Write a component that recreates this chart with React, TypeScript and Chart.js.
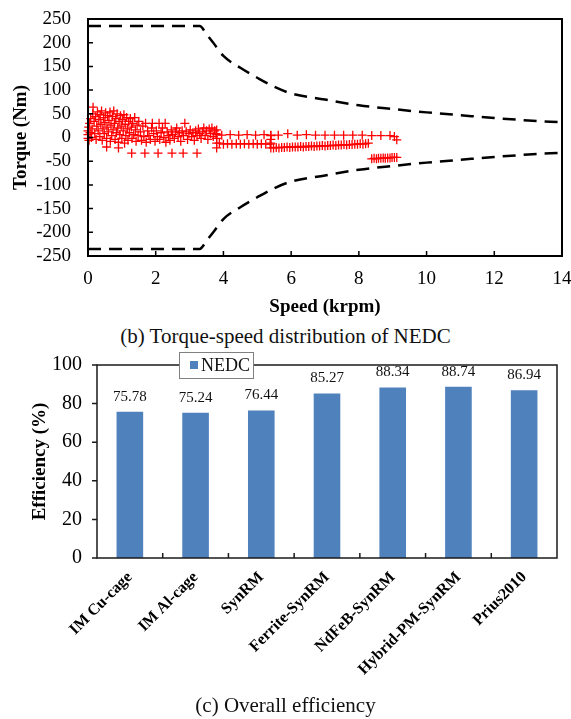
import React, { useEffect, useRef } from 'react';
import { Chart, registerables } from 'chart.js';

Chart.register(...registerables);

const SERIF = "'Liberation Serif', 'Times New Roman', serif";

// ---------- (b) Torque-speed distribution of NEDC ----------
const speedMin = 0;
const speedMax = 14;
const speedStep = 2;
const torqueMin = -250;
const torqueMax = 250;
const torqueStep = 50;

// torque envelope (dashed)
const envelopeSpeed = [0, 3.3, 3.5, 3.7, 4.0, 4.5, 5.0, 5.5, 6.0, 7.0, 8.0, 9.0, 10, 11, 12, 13, 14];
const envelopeTorqueUpper = [235, 235, 218, 200, 172, 147, 126, 107, 93, 80, 68, 60, 53, 47, 41, 36, 32];
const envelopeTorqueLower = [-235, -235, -218, -200, -172, -147, -126, -107, -93, -80, -68, -60, -53, -47, -41, -36, -32];

// NEDC operating points [speed krpm, torque Nm]
const urbanLow: [number, number][] = [
  [0.0, -2], [0.0, 6], [0.0, 14], [0.02, 22], [0.03, -6], [0.05, 30], [0.06, 10], [0.08, 40], [0.1, 0],
  [0.12, 18], [0.14, 50], [0.15, 64], [0.18, 34], [0.2, 8], [0.22, 44], [0.24, -4], [0.26, 24], [0.28, 54],
  [0.3, 14], [0.32, 38], [0.35, 2], [0.36, 48], [0.38, 28], [0.4, 56], [0.42, -6], [0.44, 18], [0.46, 42],
  [0.48, 8], [0.5, 32], [0.52, 52], [0.55, -2], [0.56, 22], [0.58, 46], [0.6, 12], [0.62, 36], [0.65, 54],
  [0.66, -8], [0.68, 26], [0.7, 4], [0.72, 44], [0.74, 16], [0.76, 56], [0.78, 30], [0.8, -4], [0.82, 40],
  [0.84, 10], [0.86, 50], [0.88, 20], [0.9, -10], [0.92, 34], [0.94, 6], [0.96, 46], [0.98, 24], [1.0, -2],
  [1.02, 38], [1.04, 14], [1.06, 48], [1.08, -12], [1.1, 28], [1.12, 4], [1.14, 42], [1.16, 18], [1.18, -6],
  [1.2, 34], [1.22, 10], [1.25, 40], [1.28, 22], [1.3, -2], [1.32, 30], [1.35, 6], [1.38, 42], [1.4, 16],
  [1.42, -8], [1.45, 26], [1.48, 4], [1.5, 34],
];
const urbanMid: [number, number][] = [
  [1.55, 12], [1.58, -6], [1.62, 24], [1.65, 2], [1.7, 30], [1.72, -10], [1.76, 14], [1.8, 4], [1.84, -4],
  [1.88, 20], [1.9, 30], [1.94, 8], [1.98, -8], [2.02, 14], [2.05, 2], [2.1, 30], [2.12, -4], [2.16, 10],
  [2.2, 20], [2.24, 0], [2.28, 30], [2.3, -10], [2.34, 12], [2.38, 4], [2.42, -6], [2.46, 16], [2.5, 6],
  [2.55, -2], [2.58, 12], [2.62, 20], [2.66, 2], [2.7, 10], [2.74, -8], [2.78, 14], [2.82, 4], [2.86, 30],
  [2.9, 12], [2.94, -4], [2.98, 8], [3.02, 16], [3.06, 2], [3.1, 10], [3.14, -6], [3.18, 14], [3.22, 4],
  [3.26, 18], [3.3, 8], [3.34, -2], [3.38, 12], [3.42, 20], [3.46, 4], [3.5, 14], [3.54, -4], [3.58, 18],
  [3.62, 8], [3.66, 20], [3.7, 2], [3.74, 14], [3.78, 8], [3.8, -22], [3.8, -12], [3.8, -2], [3.8, 6], [3.8, 16],
];
const urbanBraking: [number, number][] = [
  [0.55, -20], [0.9, -22], [1.29, -33], [1.68, -33], [2.07, -33], [2.48, -33], [2.81, -33], [3.22, -33],
];
const extraUrbanA: [number, number][] = [
  [3.95, 5], [4.2, 6], [4.45, 5], [4.7, 6], [4.95, 5], [5.2, 6], [5.4, 5],
  [3.88, -12], [4.0, -14], [4.12, -13], [4.25, -14], [4.38, -13], [4.5, -14], [4.62, -13], [4.75, -14],
  [4.88, -13], [5.0, -14], [5.12, -13], [5.25, -14], [5.38, -14],
];
const extraUrbanB: [number, number][] = [
  [5.4, -22], [5.48, -22], [5.56, -21], [5.64, -22], [5.72, -21], [5.8, -21], [5.88, -20], [5.96, -21],
  [6.04, -20], [6.12, -20], [6.2, -20], [6.28, -19], [6.36, -20], [6.44, -19], [6.52, -19], [6.6, -18],
  [6.68, -19], [6.76, -18], [6.84, -18], [6.92, -17], [7.0, -18], [7.08, -17], [7.16, -17], [7.24, -16],
  [7.32, -17], [7.4, -16], [7.48, -16], [7.56, -15], [7.64, -16], [7.72, -15], [7.8, -15], [7.88, -14],
  [7.96, -14], [8.04, -13], [8.12, -14], [8.2, -13], [8.28, -12],
  [5.4, -12], [5.4, -4], [5.4, 4],
  [5.62, 5], [5.9, 8], [6.18, 5], [6.45, 6], [6.72, 5], [7.0, 5], [7.28, 5], [7.55, 5], [7.82, 5],
  [8.1, 5], [8.38, 4], [8.65, 4], [8.92, 4], [9.05, 2], [9.12, -5],
];
const regenHighSpeed: [number, number][] = [
  [8.38, -45], [8.45, -44], [8.52, -45], [8.58, -44], [8.65, -44], [8.72, -43], [8.78, -44], [8.85, -43],
  [8.92, -43], [8.98, -42], [9.05, -42], [9.12, -42],
];

// ---------- (c) Overall efficiency ----------
const motorTypes = ['IM Cu-cage', 'IM Al-cage', 'SynRM', 'Ferrite-SynRM', 'NdFeB-SynRM', 'Hybrid-PM-SynRM', 'Prius2010'];
const nedcEfficiency = [75.78, 75.24, 76.44, 85.27, 88.34, 88.74, 86.94];
const effMin = 0;
const effMax = 100;
const effStep = 20;

const torqueFrame = {
  id: 'torqueFrame',
  afterDraw(chart: any) {
    const { ctx, chartArea: a, scales } = chart;
    ctx.save();
    ctx.strokeStyle = '#000';
    ctx.lineWidth = 1.5;
    ctx.beginPath();
    scales.x.ticks.forEach((t: any) => {
      const px = scales.x.getPixelForValue(t.value);
      ctx.moveTo(px, a.bottom);
      ctx.lineTo(px, a.bottom - 5);
    });
    scales.y.ticks.forEach((t: any) => {
      const py = scales.y.getPixelForValue(t.value);
      ctx.moveTo(a.left, py);
      ctx.lineTo(a.left + 5, py);
    });
    ctx.stroke();
    ctx.lineWidth = 2;
    ctx.strokeRect(a.left, a.top, a.right - a.left, a.bottom - a.top);
    ctx.restore();
  },
};

const effDecor = {
  id: 'effDecor',
  afterDraw(chart: any) {
    const { ctx, chartArea: a, scales } = chart;
    ctx.save();
    // frame
    ctx.strokeStyle = '#1a1a1a';
    ctx.lineWidth = 1.5;
    ctx.strokeRect(a.left, a.top, a.right - a.left, a.bottom - a.top);
    // y ticks outward
    ctx.beginPath();
    scales.y.ticks.forEach((t: any) => {
      const py = scales.y.getPixelForValue(t.value);
      ctx.moveTo(a.left - 5, py);
      ctx.lineTo(a.left, py);
    });
    // x ticks inward at category boundaries
    const n = scales.x.ticks.length;
    for (let i = 1; i < n; i++) {
      const px = (scales.x.getPixelForTick(i - 1) + scales.x.getPixelForTick(i)) / 2;
      ctx.moveTo(px, a.bottom);
      ctx.lineTo(px, a.bottom - 5);
    }
    ctx.stroke();
    // value labels
    const meta = chart.getDatasetMeta(0);
    const ds = chart.data.datasets[0];
    ctx.fillStyle = '#111';
    ctx.font = `15px ${SERIF}`;
    ctx.textAlign = 'center';
    ctx.textBaseline = 'middle';
    meta.data.forEach((bar: any, i: number) => {
      ctx.fillText((ds.data[i] as number).toFixed(2), bar.x, bar.y - 15);
    });
    // legend box
    const lx = a.left + 82;
    const ly = a.top - 13;
    const lw = 74;
    const lh = 26;
    ctx.fillStyle = '#fff';
    ctx.fillRect(lx, ly, lw, lh);
    ctx.strokeStyle = '#808080';
    ctx.lineWidth = 1;
    ctx.strokeRect(lx + 0.5, ly + 0.5, lw, lh);
    ctx.fillStyle = ds.backgroundColor;
    ctx.fillRect(lx + 11, ly + 9, 8, 8);
    ctx.fillStyle = '#111';
    ctx.font = `18px ${SERIF}`;
    ctx.textAlign = 'left';
    ctx.textBaseline = 'middle';
    ctx.fillText(ds.label, lx + 22, ly + lh / 2 + 1);
    ctx.restore();
  },
};

export default function App() {
  const topRef = useRef<HTMLCanvasElement>(null);
  const botRef = useRef<HTMLCanvasElement>(null);

  useEffect(() => {
    const toXY = (arr: [number, number][]) => arr.map(([x, y]) => ({ x, y }));
    const nedcPoints = [
      ...toXY(urbanLow),
      ...toXY(urbanMid),
      ...toXY(urbanBraking),
      ...toXY(extraUrbanA),
      ...toXY(extraUrbanB),
      ...toXY(regenHighSpeed),
    ];
    const c1 = new Chart(topRef.current as HTMLCanvasElement, {
      type: 'scatter',
      data: {
        datasets: [
          {
            type: 'line',
            label: 'Upper limit',
            data: envelopeSpeed.map((s, i) => ({ x: s, y: envelopeTorqueUpper[i] })),
            borderColor: '#000',
            borderWidth: 2.5,
            borderDash: [13, 8],
            pointRadius: 0,
            fill: false,
            cubicInterpolationMode: 'monotone',
          } as any,
          {
            type: 'line',
            label: 'Lower limit',
            data: envelopeSpeed.map((s, i) => ({ x: s, y: envelopeTorqueLower[i] })),
            borderColor: '#000',
            borderWidth: 2.5,
            borderDash: [13, 8],
            pointRadius: 0,
            fill: false,
            cubicInterpolationMode: 'monotone',
          } as any,
          {
            type: 'scatter',
            label: 'NEDC',
            data: nedcPoints,
            pointStyle: 'cross',
            pointRadius: 4.5,
            borderColor: '#ff0000',
            backgroundColor: '#ff0000',
            borderWidth: 1.3,
            clip: false,
          } as any,
        ],
      },
      options: {
        responsive: false,
        animation: false,
        layout: { padding: { left: 0, top: 19, right: 9, bottom: 0 } },
        plugins: { legend: { display: false }, tooltip: { enabled: false } },
        scales: {
          x: {
            type: 'linear',
            min: speedMin,
            max: speedMax,
            ticks: {
              stepSize: speedStep,
              autoSkip: false,
              color: '#000',
              font: { family: SERIF, size: 19 },
              padding: 12,
              callback: (v: any) => String(v),
            },
            grid: { display: false, drawTicks: false },
            border: { display: false },
            title: {
              display: true,
              text: 'Speed (krpm)',
              color: '#000',
              font: { family: SERIF, size: 19, weight: 'bold' },
              padding: { top: 0, bottom: 0 },
            },
            afterFit: (s: any) => {
              s.height = 62;
              s.paddingLeft = 0;
              s.paddingRight = 0;
            },
          },
          y: {
            type: 'linear',
            min: torqueMin,
            max: torqueMax,
            ticks: {
              stepSize: torqueStep,
              autoSkip: false,
              color: '#000',
              font: { family: SERIF, size: 19 },
              padding: 17,
              callback: (v: any) => String(v),
            },
            grid: { display: false, drawTicks: false },
            border: { display: false },
            title: {
              display: true,
              text: 'Torque (Nm)',
              color: '#000',
              font: { family: SERIF, size: 19, weight: 'bold' },
              padding: { top: 10, bottom: 0 },
            },
            afterFit: (s: any) => {
              s.width = 88;
              s.paddingTop = 0;
              s.paddingBottom = 0;
            },
          },
        },
      } as any,
      plugins: [torqueFrame],
    });

    const c2 = new Chart(botRef.current as HTMLCanvasElement, {
      type: 'bar',
      data: {
        labels: motorTypes,
        datasets: [
          {
            label: 'NEDC',
            data: nedcEfficiency,
            backgroundColor: '#4F81BD',
            borderWidth: 0,
            categoryPercentage: 1,
            barPercentage: 0.405,
          },
        ],
      },
      options: {
        responsive: false,
        animation: false,
        layout: { padding: { left: 0, top: 35, right: 14, bottom: 0 } },
        plugins: { legend: { display: false }, tooltip: { enabled: false } },
        scales: {
          x: {
            ticks: {
              color: '#000',
              font: { family: SERIF, size: 16, weight: 'bold' },
              maxRotation: 45,
              minRotation: 45,
              autoSkip: false,
              padding: 10,
            },
            grid: { display: false, drawTicks: false },
            border: { display: false },
            afterFit: (s: any) => {
              s.height = 137;
              s.paddingLeft = 0;
              s.paddingRight = 0;
            },
          },
          y: {
            min: effMin,
            max: effMax,
            ticks: {
              stepSize: effStep,
              autoSkip: false,
              color: '#000',
              font: { family: SERIF, size: 20 },
              padding: 15,
            },
            grid: { display: false, drawTicks: false },
            border: { display: false },
            title: {
              display: true,
              text: 'Efficiency (%)',
              color: '#000',
              font: { family: SERIF, size: 19, weight: 'bold' },
              padding: { top: 29, bottom: 0 },
            },
            afterFit: (s: any) => {
              s.width = 97;
              s.paddingTop = 0;
              s.paddingBottom = 0;
            },
          },
        },
      } as any,
      plugins: [effDecor],
    });

    return () => {
      c1.destroy();
      c2.destroy();
    };
  }, []);

  const caption: React.CSSProperties = {
    position: 'absolute',
    left: 0,
    width: 571,
    textAlign: 'center',
    fontFamily: SERIF,
    fontSize: 21,
    lineHeight: '24px',
    color: '#111',
  };

  return (
    <div style={{ position: 'absolute', left: 0, top: 0, width: 571, height: 719, background: '#fff', overflow: 'hidden' }}>
      <canvas ref={topRef} width={571} height={318} style={{ position: 'absolute', left: 0, top: 0 }} />
      <div style={{ ...caption, top: 324 }}>(b) Torque-speed distribution of NEDC</div>
      <canvas ref={botRef} width={571} height={365} style={{ position: 'absolute', left: 0, top: 330 }} />
      <div style={{ ...caption, top: 693 }}>(c) Overall efficiency</div>
    </div>
  );
}
